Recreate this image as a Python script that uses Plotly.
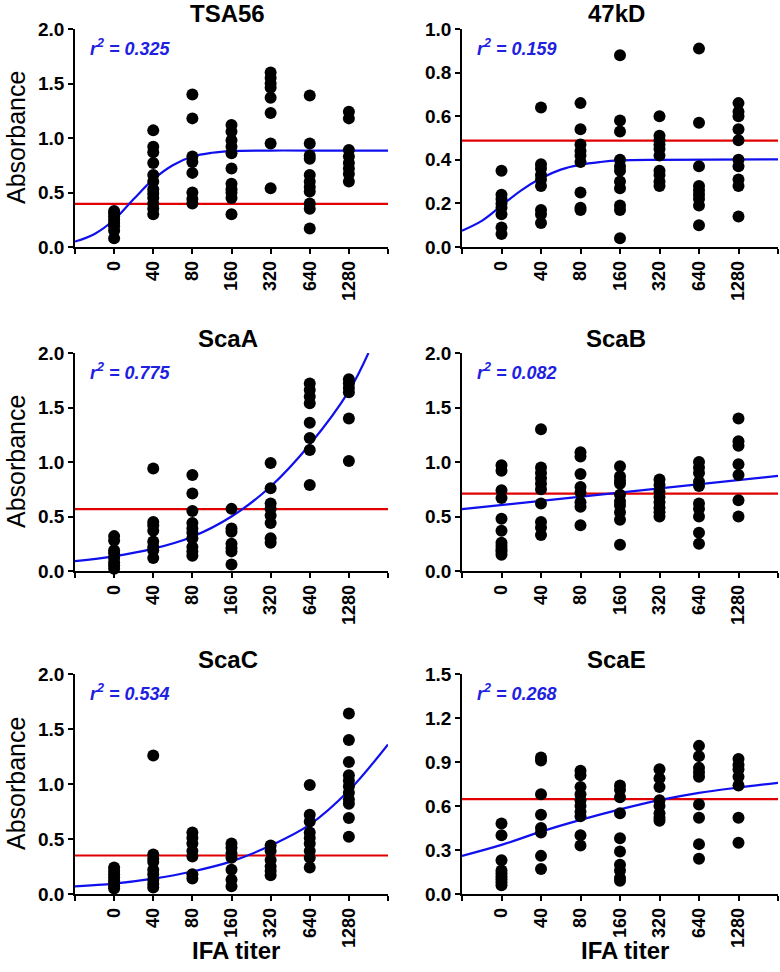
import plotly.graph_objects as go

# ---------------- data ----------------
titers = ["0", "40", "80", "160", "320", "640", "1280"]

tsa56_values = [
    [0.08, 0.15, 0.19, 0.22, 0.25, 0.28, 0.31, 0.33],
    [1.07, 0.92, 0.87, 0.77, 0.66, 0.60, 0.53, 0.49, 0.45, 0.40, 0.35, 0.30],
    [1.40, 1.18, 0.83, 0.78, 0.68, 0.50, 0.44, 0.40],
    [1.12, 1.06, 0.98, 0.92, 0.86, 0.72, 0.58, 0.53, 0.50, 0.45, 0.30],
    [1.60, 1.55, 1.50, 1.46, 1.37, 1.23, 0.95, 0.54],
    [1.39, 0.95, 0.84, 0.81, 0.66, 0.60, 0.55, 0.51, 0.40, 0.35, 0.17],
    [1.24, 1.18, 0.89, 0.83, 0.77, 0.72, 0.67, 0.60],
]
kd47_values = [
    [0.35, 0.24, 0.22, 0.20, 0.18, 0.15, 0.09, 0.06],
    [0.64, 0.38, 0.36, 0.33, 0.31, 0.28, 0.17, 0.15, 0.11],
    [0.66, 0.54, 0.47, 0.44, 0.42, 0.39, 0.25, 0.18, 0.17],
    [0.88, 0.58, 0.53, 0.40, 0.37, 0.35, 0.30, 0.27, 0.19, 0.17, 0.04],
    [0.60, 0.51, 0.49, 0.47, 0.45, 0.42, 0.35, 0.33, 0.30, 0.28],
    [0.91, 0.57, 0.37, 0.28, 0.26, 0.24, 0.22, 0.19, 0.10],
    [0.66, 0.62, 0.60, 0.54, 0.49, 0.40, 0.37, 0.31, 0.28, 0.14],
]
scaa_values = [
    [0.32, 0.28, 0.19, 0.16, 0.12, 0.08, 0.05, 0.02],
    [0.94, 0.45, 0.42, 0.37, 0.27, 0.22, 0.19, 0.12],
    [0.88, 0.71, 0.55, 0.44, 0.39, 0.35, 0.30, 0.22, 0.18, 0.14],
    [0.57, 0.39, 0.36, 0.25, 0.21, 0.18, 0.06],
    [0.99, 0.76, 0.62, 0.57, 0.51, 0.44, 0.30, 0.26],
    [1.72, 1.66, 1.60, 1.54, 1.36, 1.22, 1.11, 0.79],
    [1.76, 1.72, 1.68, 1.64, 1.40, 1.01],
]
scab_values = [
    [0.97, 0.92, 0.74, 0.67, 0.48, 0.37, 0.26, 0.23, 0.20, 0.18, 0.15],
    [1.30, 0.95, 0.90, 0.85, 0.80, 0.75, 0.62, 0.45, 0.40, 0.33],
    [1.09, 1.05, 0.89, 0.77, 0.72, 0.63, 0.59, 0.42],
    [0.96, 0.87, 0.83, 0.80, 0.70, 0.64, 0.60, 0.54, 0.47, 0.24],
    [0.84, 0.79, 0.73, 0.68, 0.63, 0.58, 0.54, 0.50],
    [1.00, 0.95, 0.90, 0.82, 0.78, 0.62, 0.57, 0.50, 0.35, 0.25],
    [1.40, 1.19, 1.15, 0.98, 0.88, 0.65, 0.50],
]
scac_values = [
    [0.24, 0.21, 0.18, 0.15, 0.12, 0.10, 0.07, 0.05],
    [1.26, 0.36, 0.32, 0.29, 0.22, 0.18, 0.13, 0.09, 0.06],
    [0.56, 0.51, 0.46, 0.39, 0.34, 0.18, 0.14],
    [0.46, 0.42, 0.37, 0.33, 0.22, 0.13, 0.07],
    [0.44, 0.39, 0.31, 0.25, 0.21, 0.17],
    [0.99, 0.72, 0.66, 0.56, 0.51, 0.46, 0.39, 0.33, 0.24],
    [1.64, 1.40, 1.20, 1.08, 1.03, 0.98, 0.92, 0.86, 0.82, 0.69, 0.52],
]
scae_values = [
    [0.48, 0.40, 0.23, 0.16, 0.14, 0.12, 0.10, 0.08, 0.06],
    [0.93, 0.91, 0.68, 0.54, 0.45, 0.42, 0.26, 0.17],
    [0.84, 0.81, 0.73, 0.68, 0.64, 0.60, 0.56, 0.53, 0.40, 0.33],
    [0.74, 0.71, 0.66, 0.55, 0.38, 0.29, 0.20, 0.16, 0.11, 0.09],
    [0.85, 0.79, 0.73, 0.64, 0.60, 0.55, 0.52, 0.50],
    [1.01, 0.94, 0.86, 0.83, 0.80, 0.61, 0.52, 0.34, 0.24],
    [0.92, 0.88, 0.85, 0.80, 0.74, 0.52, 0.35],
]

# fitted curves (x = titer position index)
tsa56_curve_x = [-1, -0.5, 0, 0.5, 1, 1.5, 2, 2.5, 3, 4, 5, 7]
tsa56_curve_y = [0.05, 0.12, 0.25, 0.44, 0.62, 0.75, 0.83, 0.865, 0.88, 0.885, 0.885, 0.885]
kd47_curve_x = [-1, -0.5, 0, 0.5, 1, 1.5, 2, 2.5, 3, 4, 7]
kd47_curve_y = [0.075, 0.12, 0.19, 0.26, 0.315, 0.355, 0.378, 0.39, 0.397, 0.40, 0.402]
scaa_curve_x = [-1, 0, 1, 2, 3, 4, 5, 6, 6.5]
scaa_curve_y = [0.09, 0.135, 0.205, 0.315, 0.50, 0.775, 1.16, 1.65, 2.0]
scab_curve_x = [-1, 7]
scab_curve_y = [0.567, 0.873]
scac_curve_x = [-1, 0, 1, 2, 3, 4, 5, 6, 7]
scac_curve_y = [0.07, 0.095, 0.14, 0.205, 0.297, 0.44, 0.63, 0.94, 1.36]
scae_curve_x = [-1, 0, 1, 2, 3, 4, 5, 6, 7]
scae_curve_y = [0.26, 0.335, 0.425, 0.505, 0.577, 0.64, 0.69, 0.726, 0.758]

panel_titles = ["TSA56", "47kD", "ScaA", "ScaB", "ScaC", "ScaE"]
r2_labels = ["0.325", "0.159", "0.775", "0.082", "0.534", "0.268"]
cutoffs = [0.395, 0.488, 0.567, 0.71, 0.35, 0.647]
y_max = [2.0, 1.0, 2.0, 2.0, 2.0, 1.5]
y_step = [0.5, 0.2, 0.5, 0.5, 0.5, 0.3]

panel_values = [tsa56_values, kd47_values, scaa_values, scab_values, scac_values, scae_values]
curves_x = [tsa56_curve_x, kd47_curve_x, scaa_curve_x, scab_curve_x, scac_curve_x, scae_curve_x]
curves_y = [tsa56_curve_y, kd47_curve_y, scaa_curve_y, scab_curve_y, scac_curve_y, scae_curve_y]

# ---------------- layout geometry (pixels) ----------------
W, H = 780, 972
col_px = [(75, 388), (462, 778)]
row_px = [(29, 247), (353, 571), (674, 894)]
FONT = "Arial, Liberation Sans, sans-serif"

def fx(p):
    return p / W

def fy(p):
    return 1 - p / H

fig = go.Figure()
annotations = []
layout_axes = {}

for i in range(6):
    r, c = divmod(i, 2)
    k = i + 1
    xa = "x" if k == 1 else f"x{k}"
    ya = "y" if k == 1 else f"y{k}"
    x0, x1 = col_px[c]
    y0, y1 = row_px[r]

    # red cutoff line
    fig.add_trace(go.Scatter(
        x=[-1, 7], y=[cutoffs[i], cutoffs[i]], mode="lines",
        line=dict(color="#e00000", width=2.2), xaxis=xa, yaxis=ya,
        showlegend=False, hoverinfo="skip"))
    # blue fitted curve
    fig.add_trace(go.Scatter(
        x=curves_x[i], y=curves_y[i], mode="lines",
        line=dict(color="#1010ee", width=2.2, shape="spline", smoothing=1.0),
        xaxis=xa, yaxis=ya, showlegend=False, hoverinfo="skip"))
    # dots
    xs, ys = [], []
    for j, vals in enumerate(panel_values[i]):
        xs += [j] * len(vals)
        ys += vals
    fig.add_trace(go.Scatter(
        x=xs, y=ys, mode="markers",
        marker=dict(color="black", size=12, line=dict(width=0)),
        cliponaxis=False, xaxis=xa, yaxis=ya, showlegend=False))

    nt = int(round(y_max[i] / y_step[i]))
    yt = [round(n * y_step[i], 2) for n in range(nt + 1)]

    layout_axes["xaxis" if k == 1 else f"xaxis{k}"] = dict(
        domain=[fx(x0), fx(x1)], anchor=ya, range=[-1, 7], automargin=False,
        tickvals=list(range(7)), ticktext=titers,
        minor=dict(tickvals=[-1, 7], ticks="outside", ticklen=5, tickwidth=1.5,
                   tickcolor="black", showgrid=False),
        tickangle=-90, ticks="outside", ticklen=5, tickwidth=1.5, tickcolor="black",
        showline=True, linecolor="black", linewidth=1.5, showgrid=False, zeroline=False,
        tickfont=dict(family=FONT, size=18, color="black", weight="bold"))
    layout_axes["yaxis" if k == 1 else f"yaxis{k}"] = dict(
        domain=[fy(y1), fy(y0)], anchor=xa, range=[0, y_max[i]], automargin=False,
        tickvals=yt, tickformat=".1f",
        ticks="outside", ticklen=5, tickwidth=1.5, tickcolor="black",
        showline=True, linecolor="black", linewidth=1.5, showgrid=False, zeroline=False,
        tickfont=dict(family=FONT, size=19, color="black", weight="bold"))

    # panel title
    annotations.append(dict(
        text=panel_titles[i], x=fx((x0 + x1) / 2 - 4), y=fy(y0 - 15),
        xref="paper", yref="paper", xanchor="center", yanchor="middle",
        showarrow=False, font=dict(family=FONT, size=24, color="black", weight="bold")))
    # r-squared
    annotations.append(dict(
        text=f"r<sup>2</sup> = {r2_labels[i]}", x=fx(x0 + 13), y=fy(y0 + 18),
        xref="paper", yref="paper", xanchor="left", yanchor="middle",
        showarrow=False,
        font=dict(family=FONT, size=18, color="#2020e0", weight="bold", style="italic")))

# axis titles
for r in range(3):
    y0, y1 = row_px[r]
    annotations.append(dict(
        text="Absorbance", x=fx(16), y=fy((y0 + y1) / 2), textangle=-90,
        xref="paper", yref="paper", xanchor="center", yanchor="middle",
        showarrow=False, font=dict(family=FONT, size=25, color="black")))
for c in range(2):
    x0, x1 = col_px[c]
    annotations.append(dict(
        text="IFA titer", x=fx((x0 + x1) / 2 + 5), y=fy(950),
        xref="paper", yref="paper", xanchor="center", yanchor="middle",
        showarrow=False, font=dict(family=FONT, size=24, color="black", weight="bold")))

fig.update_layout(
    width=W, height=H,
    margin=dict(l=0, r=0, t=0, b=0),
    paper_bgcolor="white", plot_bgcolor="white",
    annotations=annotations,
    **layout_axes)

fig.write_html("out.html", config={"displayModeBar": False},
               post_script="document.body.style.margin='0px';")
